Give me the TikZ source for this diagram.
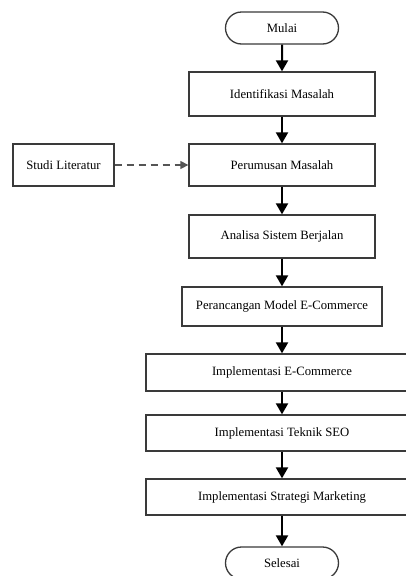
\documentclass[tikz,border=0pt]{standalone}
\usepackage{fontspec}
\setmainfont{Liberation Serif}
\usetikzlibrary{arrows.meta,shapes.misc}
\definecolor{edge}{HTML}{3A3A3A}
\definecolor{dash}{HTML}{555555}
\begin{document}
\begin{tikzpicture}[x=1pt,y=-1pt,
  every node/.style={font=\fontsize{12.7}{15}\selectfont, inner sep=0pt},
  stepbox/.style={draw=edge, line width=1.3pt, rectangle, minimum height=#1},
  stepbox/.default=43pt,
  terminal/.style={draw=edge, line width=1.3pt, rounded rectangle, minimum width=113pt, minimum height=32pt},
  flow/.style={line width=2pt, -{Triangle[width=12pt,length=11pt]}},
  ref/.style={draw=dash, line width=1.3pt, dash pattern=on 7pt off 5pt, -{Triangle[width=8pt,length=8pt]}}
]
\useasboundingbox (0,0) rectangle (406,576);
\clip (0,0) rectangle (406,576);
\fill[white] (0,0) rectangle (406,576);

\node[terminal] (mulai) at (282,28) {Mulai};
\node[stepbox=44pt, minimum width=186pt] (ident) at (282,94) {Identifikasi Masalah};
\node[stepbox=42pt, minimum width=186pt] (rumus) at (282,165) {Perumusan Masalah};
\node[stepbox=42pt, minimum width=101pt] (studi) at (63.5,165) {Studi Literatur};
\node[stepbox=43pt, minimum width=186pt] (analisa) at (282,236.5) {Analisa Sistem Berjalan};
\node[stepbox=39pt, minimum width=200pt] (rancang) at (282,306.5) {Perancangan Model E-Commerce};
\node[stepbox=37pt, minimum width=272pt] (ecom) at (282,372.5) {Implementasi E-Commerce};
\node[stepbox=36pt, minimum width=272pt] (seo) at (282,433) {Implementasi Teknik SEO};
\node[stepbox=36pt, minimum width=272pt] (market) at (282,497) {Implementasi Strategi Marketing};
\node[terminal] (selesai) at (282,563) {Selesai};

\draw[flow] (mulai) -- (ident);
\draw[flow] (ident) -- (rumus);
\draw[flow] (rumus) -- (analisa);
\draw[flow] (analisa) -- (rancang);
\draw[flow] (rancang) -- (ecom);
\draw[flow] (ecom) -- (seo);
\draw[flow] (seo) -- (market);
\draw[flow] (market) -- (selesai);
\draw[ref] (studi) -- (rumus);
\end{tikzpicture}
\end{document}
